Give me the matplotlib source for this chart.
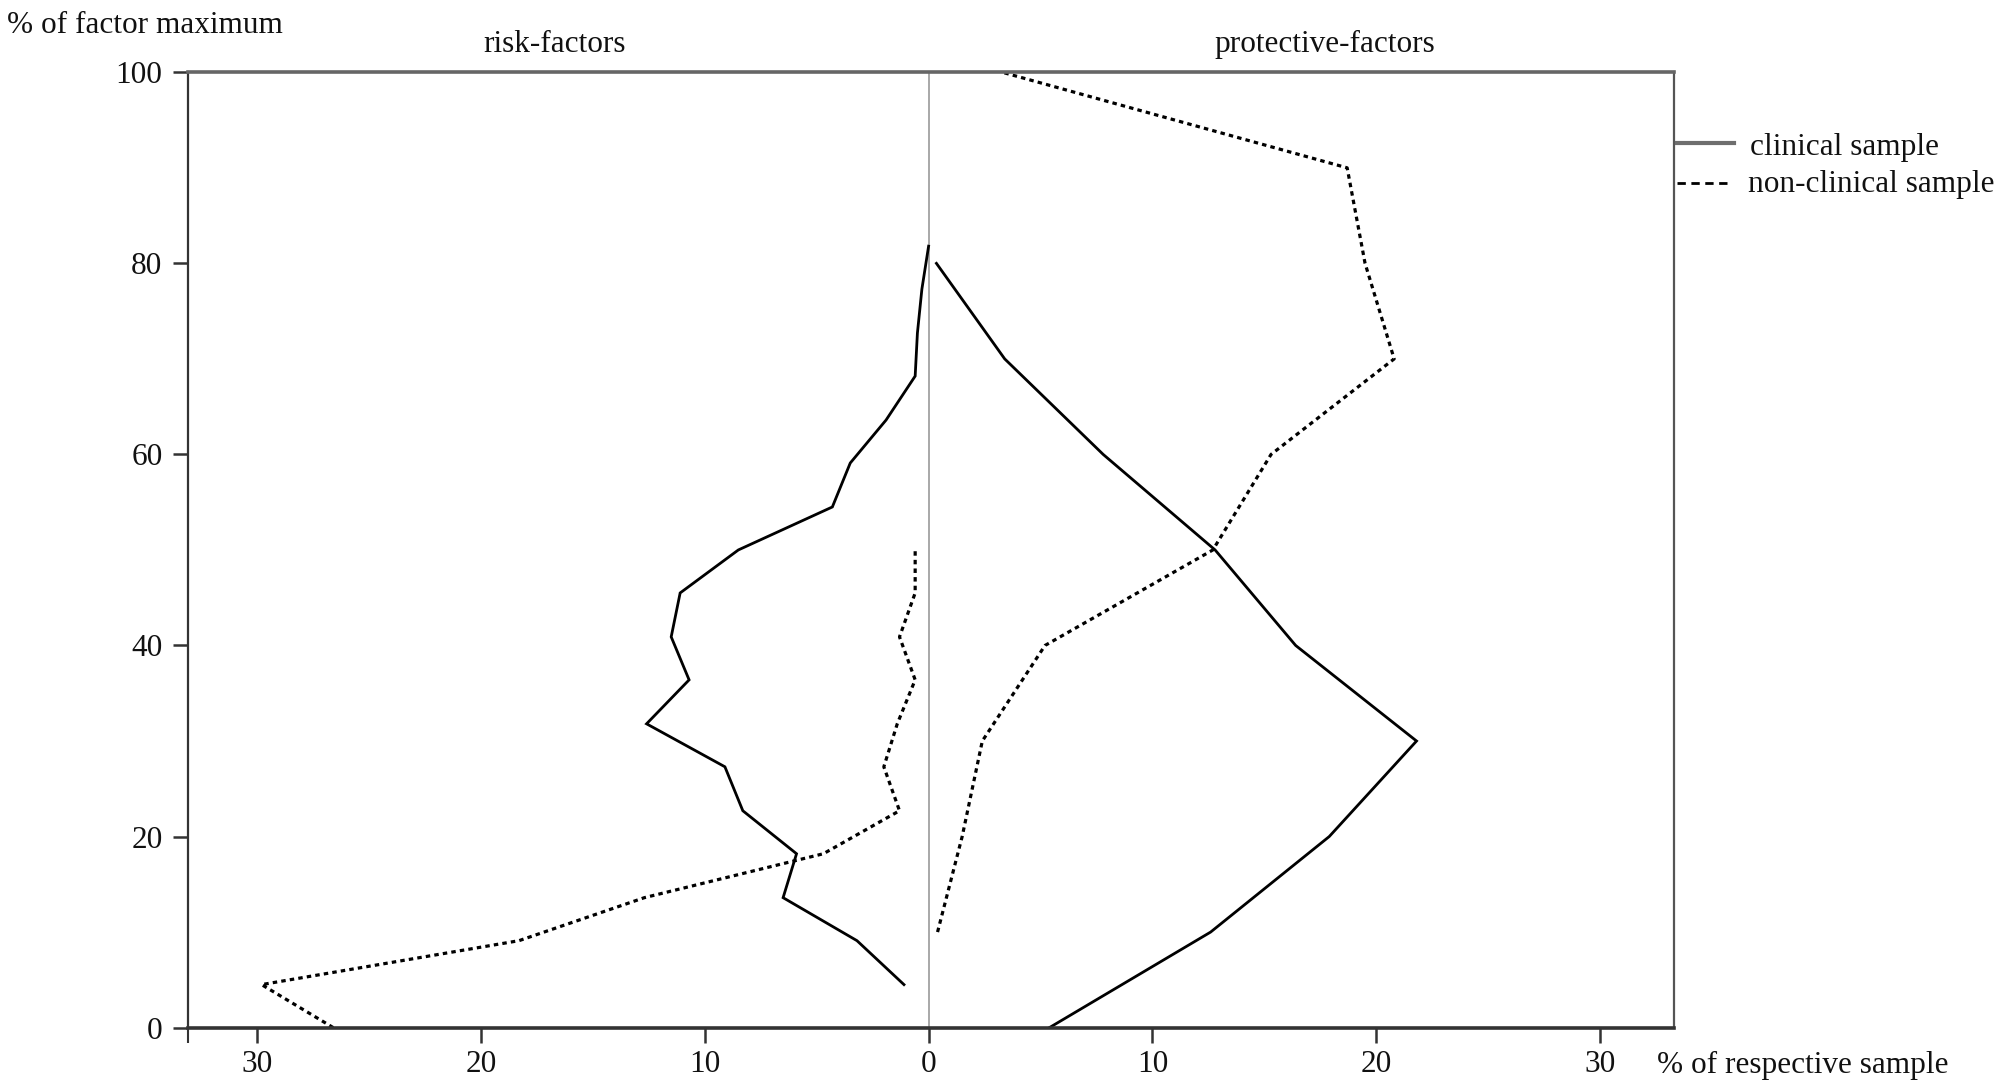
import matplotlib
matplotlib.use("Agg")
import matplotlib.pyplot as plt
from matplotlib.lines import Line2D

# ---- data ----
risk_clin_y = [4.5, 9.1, 13.6, 18.2, 22.7, 27.3, 31.8, 36.4, 40.9, 45.5, 50.0, 54.5, 59.1, 63.6, 68.2, 72.7, 77.3, 81.8]
risk_clin_pct = [1.1, 3.2, 6.5, 5.9, 8.3, 9.1, 12.6, 10.7, 11.5, 11.1, 8.5, 4.3, 3.5, 1.9, 0.6, 0.5, 0.3, 0.0]

risk_nonclin_y = [0.0, 4.5, 9.1, 13.6, 18.2, 22.7, 27.3, 31.8, 36.4, 40.9, 45.5, 50.0]
risk_nonclin_pct = [26.6, 29.8, 18.3, 12.7, 4.7, 1.3, 2.0, 1.4, 0.6, 1.3, 0.6, 0.6]

prot_clin_y = [0, 10, 20, 30, 40, 50, 60, 70, 80]
prot_clin_pct = [5.4, 12.6, 17.9, 21.8, 16.4, 12.8, 7.8, 3.4, 0.35]

prot_nonclin_y = [10, 20, 30, 40, 50, 60, 70, 80, 90, 100]
prot_nonclin_pct = [0.4, 1.5, 2.4, 5.2, 12.7, 15.3, 20.8, 19.5, 18.7, 3.3]

x_ticks = [-30, -20, -10, 0, 10, 20, 30]
x_tick_labels = ["30", "20", "10", "0", "10", "20", "30"]
y_ticks = [0, 20, 40, 60, 80, 100]

# ---- figure ----
plt.rcParams['font.family'] = ['Liberation Serif', 'DejaVu Serif']
FS = 22.5
W, H = 2000, 1083
fig = plt.figure(figsize=(W / 100, H / 100), dpi=100)

def fx(px):
    return px / W

def fy(py):
    return 1 - py / H

ax_l, ax_r, ax_t, ax_b = 187.5, 1673.5, 72.3, 1027.6
ax = fig.add_axes([fx(ax_l), fy(ax_b), (ax_r - ax_l) / W, (ax_b - ax_t) / H])

dot_style = (0, (1.4, 1.3))
ax.axvline(0, color="#9a9a9a", lw=1.2, zorder=1)

ax.plot([-v for v in risk_clin_pct], risk_clin_y, color="black", lw=2.0, solid_joinstyle="miter")
ax.plot([-v for v in risk_nonclin_pct], risk_nonclin_y, color="black", lw=2.3, linestyle=dot_style)
ax.plot(prot_clin_pct, prot_clin_y, color="black", lw=2.0, solid_joinstyle="miter")
ax.plot(prot_nonclin_pct, prot_nonclin_y, color="black", lw=2.3, linestyle=dot_style)

ax.set_xlim(-33.11, 33.28)
ax.set_ylim(0, 100)
ax.set_xticks(x_ticks)
ax.set_xticklabels(x_tick_labels)
ax.set_yticks(y_ticks)
ax.set_xticks([-33.11], minor=True)
ax.tick_params(axis="x", which="minor", length=11, width=1.5, color="#333333")
ax.tick_params(axis="both", which="major", labelsize=FS, length=11, width=1.8, color="#333333", labelcolor="#111111")
ax.tick_params(axis="y", pad=7)
ax.tick_params(axis="x", pad=5)

for side, col, lw in [("top", "#666666", 2.6), ("bottom", "#333333", 2.6), ("left", "#333333", 1.6), ("right", "#555555", 1.6)]:
    ax.spines[side].set_color(col)
    ax.spines[side].set_linewidth(lw)

# ---- texts ----
fig.text(fx(6.7), fy(33), "% of factor maximum", fontsize=FS, ha="left", va="baseline", color="#111111")
fig.text(fx(555), fy(52), "risk-factors", fontsize=FS, ha="center", va="baseline", color="#111111")
fig.text(fx(1325), fy(52), "protective-factors", fontsize=FS, ha="center", va="baseline", color="#111111")
fig.text(fx(1657), fy(1073), "% of respective sample", fontsize=FS, ha="left", va="baseline", color="#111111")

# ---- legend (outside, right) ----
fig.add_artist(Line2D([fx(1677), fx(1734)], [fy(142.7), fy(142.7)], transform=fig.transFigure,
                      color="#6e6e6e", lw=3.0))
fig.add_artist(Line2D([fx(1677), fx(1732)], [fy(182.7), fy(182.7)], transform=fig.transFigure,
                      color="black", lw=2.0, linestyle=(0, (3, 2))))
fig.text(fx(1750), fy(155), "clinical sample", fontsize=FS, ha="left", va="baseline", color="#111111")
fig.text(fx(1748), fy(192), "non-clinical sample", fontsize=FS, ha="left", va="baseline", color="#111111")

fig.savefig("out.png", dpi=100, facecolor="white")
